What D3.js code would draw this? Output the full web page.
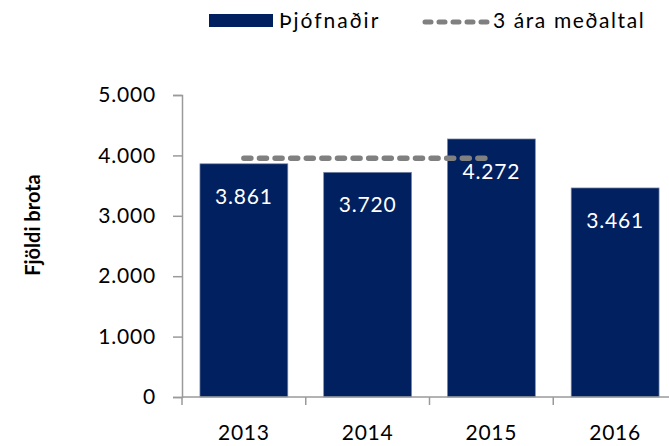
<!DOCTYPE html>
<html lang="is">
<head>
<meta charset="UTF-8">
<title>Þjófnaðir</title>
<style>
  body { margin: 0; background: #fff; }
  text { font-family: Lato, "Open Sans", sans-serif; }
</style>
</head>
<body>
<div id="chart"></div>
<script src="https://d3js.org/d3.v7.min.js"></script>
<script>
const years = ["2013", "2014", "2015", "2016"];
const thefts = [3861, 3720, 4272, 3461];
// 3 ára meðaltal, drawn across 2013-2015
const avgYears = ["2013", "2014", "2015"];
const avgValues = [3951, 3951, 3951];
const yTicks = [0, 1000, 2000, 3000, 4000, 5000];

const W = 669, H = 446;
const LEFT = 182, RIGHT = 677, TOP = 95, BOTTOM = 397;
const NAVY = "#002060";
const fmt = v => d3.format(",")(v).replace(/,/g, ".");

const svg = d3.select("#chart").append("svg")
  .attr("width", W).attr("height", H);

const x = d3.scaleBand().domain(years).range([LEFT, RIGHT])
  .paddingInner(0.29).paddingOuter(0.145);
const y = d3.scaleLinear().domain([0, 5000]).range([BOTTOM, TOP]);

// y axis
const yAxis = svg.append("g").attr("transform", `translate(${LEFT},0)`)
  .call(d3.axisLeft(y).tickValues(yTicks).tickFormat(fmt).tickSize(9).tickPadding(17));
yAxis.select(".domain").attr("stroke", "#9a9a9a").attr("stroke-width", 1.5);
yAxis.selectAll(".tick line").attr("stroke", "#9a9a9a").attr("stroke-width", 1.5);
yAxis.selectAll(".tick text").attr("font-size", 21).attr("fill", "#000")
  .attr("font-family", "Lato, sans-serif").attr("letter-spacing", 0.8);

// bars
svg.selectAll(".bar").data(thefts).enter().append("rect")
  .attr("class", "bar")
  .attr("x", (d, i) => x(years[i]))
  .attr("y", d => y(d))
  .attr("width", x.bandwidth())
  .attr("height", d => BOTTOM - y(d))
  .attr("fill", NAVY)
  .attr("stroke", "#7d8aa8").attr("stroke-width", 0.7);

// x axis
const xTickScale = d3.scaleLinear().domain([0, 4]).range([LEFT, RIGHT]);
const xAxis = svg.append("g").attr("transform", `translate(0,${BOTTOM})`);
xAxis.append("line").attr("x1", LEFT).attr("x2", RIGHT)
  .attr("stroke", "#9a9a9a").attr("stroke-width", 1.5);
xAxis.selectAll(".xt").data(d3.range(5)).enter().append("line")
  .attr("x1", d => xTickScale(d)).attr("x2", d => xTickScale(d))
  .attr("y1", 0).attr("y2", 8)
  .attr("stroke", "#9a9a9a").attr("stroke-width", 1.5);
xAxis.selectAll(".xl").data(years).enter().append("text")
  .attr("x", d => x(d) + x.bandwidth() / 2)
  .attr("y", 43)
  .attr("text-anchor", "middle")
  .attr("font-size", 21).attr("letter-spacing", 0.8)
  .text(d => d);

// average line
svg.append("path")
  .datum(avgValues)
  .attr("fill", "none")
  .attr("stroke", "#808080")
  .attr("stroke-width", 5.5)
  .attr("stroke-linecap", "round")
  .attr("stroke-dasharray", "7,8.6")
  .attr("d", d3.line()
    .x((d, i) => x(avgYears[i]) + x.bandwidth() / 2)
    .y(d => y(d)));

// value labels
svg.selectAll(".lbl").data(thefts).enter().append("text")
  .attr("x", (d, i) => x(years[i]) + x.bandwidth() / 2)
  .attr("y", d => y(d) + 40)
  .attr("text-anchor", "middle")
  .attr("fill", "#fff")
  .attr("font-size", 21).attr("letter-spacing", 0.8)
  .text(d => fmt(d));

// y axis title
svg.append("text")
  .attr("transform", "translate(40,225) rotate(-90)")
  .attr("text-anchor", "middle")
  .attr("font-weight", "bold")
  .attr("font-size", 20)
  .text("Fjöldi brota");

// legend
const lg = svg.append("g");
lg.append("rect").attr("x", 209).attr("y", 14).attr("width", 64).attr("height", 13).attr("fill", NAVY);
lg.append("text").attr("x", 279).attr("y", 28).attr("font-size", 21).attr("letter-spacing", 2).text("Þjófnaðir");
lg.append("line").attr("x1", 425).attr("x2", 490).attr("y1", 22).attr("y2", 22)
  .attr("stroke", "#808080").attr("stroke-width", 5)
  .attr("stroke-linecap", "round").attr("stroke-dasharray", "6,8");
lg.append("text").attr("x", 493).attr("y", 28).attr("font-size", 21).attr("letter-spacing", 1.6).text("3 ára meðaltal");
</script>
</body>
</html>
